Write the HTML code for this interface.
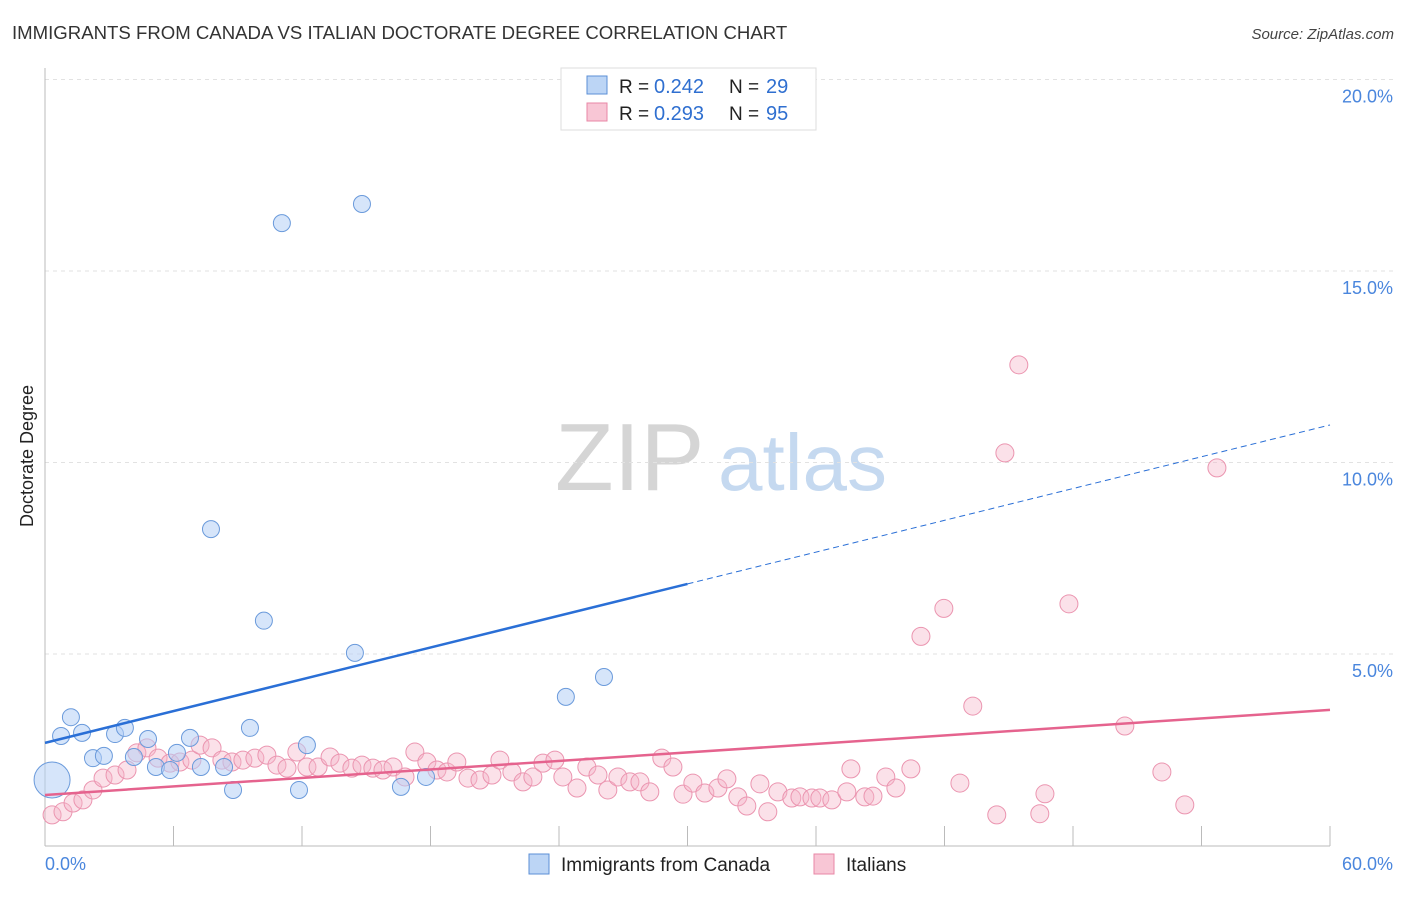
<!DOCTYPE html>
<html><head><meta charset="utf-8"><style>
body{margin:0;background:#fff;font-family:"Liberation Sans",sans-serif;}
svg text{font-family:"Liberation Sans",sans-serif;}
</style></head><body>
<svg id="chart" width="1406" height="892" xmlns="http://www.w3.org/2000/svg">
<text x="12" y="39" font-size="18.6" fill="#333">IMMIGRANTS FROM CANADA VS ITALIAN DOCTORATE DEGREE CORRELATION CHART</text>
<text x="1394" y="39" font-size="15" fill="#444" font-style="italic" text-anchor="end">Source: ZipAtlas.com</text>
<g>
<text x="555" y="490" font-size="96" fill="#d5d5d5" font-family="Liberation Serif">ZIP</text>
<text x="718" y="490" font-size="80" fill="#c5d9f0">atlas</text>
</g>
<g id="grid"></g>
<g id="axes"></g>
<g id="marks"></g>
<text transform="translate(33,456) rotate(-90)" font-size="18" fill="#222" text-anchor="middle">Doctorate Degree</text>
<g>
<rect x="561" y="68" width="255" height="62" fill="#fff" stroke="#ddd"/>
<rect x="587" y="76" width="20" height="18" fill="#bcd5f5" stroke="#5b8fd6"/>
<text x="619" y="93" font-size="19" fill="#222">R = </text>
<text x="654" y="93" font-size="20" fill="#2f6fd0">0.242</text>
<text x="729" y="93" font-size="19" fill="#222">N = </text>
<text x="766" y="93" font-size="20" fill="#2f6fd0">29</text>
<rect x="587" y="103" width="20" height="18" fill="#f8c6d5" stroke="#e887a6"/>
<text x="619" y="120" font-size="19" fill="#222">R = </text>
<text x="654" y="120" font-size="20" fill="#2f6fd0">0.293</text>
<text x="729" y="120" font-size="19" fill="#222">N = </text>
<text x="766" y="120" font-size="20" fill="#2f6fd0">95</text>
</g>
<g>
<rect x="529" y="854" width="20" height="20" fill="#bcd5f5" stroke="#5b8fd6"/>
<text x="561" y="871" font-size="19" fill="#222">Immigrants from Canada</text>
<rect x="814" y="854" width="20" height="20" fill="#f8c6d5" stroke="#e887a6"/>
<text x="846" y="871" font-size="19" fill="#222">Italians</text>
</g>
</svg>
<script>
const yTicks=[5,10,15,20];
const yTickLabels=["5.0%","10.0%","15.0%","20.0%"];
const xTicks=[0,6,12,18,24,30,36,42,48,54,60];
const canadaX=[0.33,0.75,1.21,1.73,2.24,2.75,3.27,3.73,4.15,4.81,5.18,5.84,6.16,6.77,7.28,8.36,8.78,9.57,10.22,7.75,11.06,12.23,11.86,14.47,14.80,16.62,17.79,24.32,26.10];
const canadaY=[1.71,2.86,3.35,2.94,2.28,2.34,2.91,3.07,2.31,2.78,2.05,1.97,2.42,2.81,2.05,2.05,1.45,3.07,5.87,8.26,16.25,2.62,1.45,5.03,16.75,1.53,1.79,3.88,4.40];
const italX=[0.33,0.84,1.31,1.77,2.24,2.71,3.27,3.83,4.29,4.76,5.28,5.84,6.30,6.86,7.24,7.80,8.26,8.73,9.24,9.80,10.36,10.83,11.30,11.76,12.23,12.75,13.31,13.77,14.33,14.80,15.31,15.78,16.25,16.81,17.27,17.83,18.30,18.77,19.23,19.75,20.31,20.87,21.24,21.80,22.32,22.78,23.25,23.81,24.18,24.84,25.30,25.82,26.28,26.75,27.31,27.78,28.24,28.80,29.32,29.79,30.25,30.81,31.42,31.84,32.35,32.77,33.38,33.75,34.22,34.87,35.25,35.81,36.18,36.74,37.44,37.63,38.28,38.66,39.26,39.73,40.43,42.72,43.32,40.90,41.97,45.47,44.82,47.81,54.72,50.42,52.15,53.22,44.44,46.45,46.69];
const italY=[0.80,0.88,1.11,1.19,1.45,1.76,1.84,1.97,2.42,2.55,2.28,2.15,2.18,2.23,2.62,2.55,2.23,2.18,2.23,2.28,2.36,2.10,2.02,2.44,2.05,2.05,2.31,2.15,2.02,2.10,2.02,1.97,2.05,1.79,2.44,2.18,1.97,1.92,2.18,1.76,1.71,1.84,2.23,1.92,1.66,1.79,2.15,2.23,1.79,1.50,2.05,1.84,1.45,1.79,1.66,1.66,1.40,2.28,2.05,1.34,1.63,1.37,1.50,1.74,1.27,1.03,1.61,0.88,1.40,1.24,1.27,1.24,1.24,1.19,1.40,2.00,1.27,1.29,1.79,1.50,2.00,1.63,3.64,5.46,6.19,12.55,10.25,6.31,9.86,3.12,1.92,1.06,0.80,0.83,1.35];
const canadaTrend=[2.68,10.98];
const italTrend=[1.32,3.54];

const NS="http://www.w3.org/2000/svg";
const X0=45,X1=1330,Y0=845.5,PXPCT=38.3;
function sx(v){return X0+(v/60)*(X1-X0);}
function sy(v){return Y0-v*PXPCT;}
function mk(tag,attrs,parent){const e=document.createElementNS(NS,tag);for(const k in attrs)e.setAttribute(k,attrs[k]);parent.appendChild(e);return e;}
const grid=document.getElementById('grid'),axes=document.getElementById('axes'),marks=document.getElementById('marks');
yTicks.forEach((t,i)=>{
 const l=mk('line',{x1:45,x2:1393,y1:sy(t),y2:sy(t),stroke:'#e2e2e2','stroke-dasharray':'4,4'},grid);
 
 
 const tx=mk('text',{x:1393,y:sy(t)+23,'font-size':18,fill:'#4a86dd','text-anchor':'end'},axes);
 tx.textContent=yTickLabels[i];
 
 
});
const ya=mk('line',{x1:45,x2:45,y1:68,y2:846,stroke:'#bbb'},axes);


const xa=mk('line',{x1:45,x2:1330,y1:846,y2:846,stroke:'#bbb'},axes);


xTicks.forEach(t=>{
 const l=mk('line',{x1:sx(t),x2:sx(t),y1:826,y2:846,stroke:'#bbb'},axes);
 
 
});
const xl0=mk('text',{x:45,y:870,'font-size':18,fill:'#4a86dd'},axes);xl0.textContent='0.0%';


const xl1=mk('text',{x:1393,y:870,'font-size':18,fill:'#4a86dd','text-anchor':'end'},axes);xl1.textContent='60.0%';



italX.forEach((x,i)=>{
 const c=mk('circle',{cx:sx(x),cy:sy(italY[i]),r:9,fill:'rgba(246,180,200,0.4)',stroke:'#eb95b0','stroke-width':1},marks);
 
 
});
canadaX.forEach((x,i)=>{
 const c=mk('circle',{cx:sx(x),cy:sy(canadaY[i]),r:i===0?18:8.5,fill:'rgba(180,208,245,0.55)',stroke:'#6a9adb','stroke-width':1},marks);
 
 
});
function tr(a,x){return a[0]+(a[1]-a[0])*x/60;}
const pl=mk('line',{x1:sx(0),y1:sy(tr(italTrend,0)),x2:sx(60),y2:sy(tr(italTrend,60)),stroke:'#e5638e','stroke-width':2.5},marks);


const bl=mk('line',{x1:sx(0),y1:sy(tr(canadaTrend,0)),x2:sx(30),y2:sy(tr(canadaTrend,30)),stroke:'#2a6fd6','stroke-width':2.5},marks);


const bd=mk('line',{x1:sx(30),y1:sy(tr(canadaTrend,30)),x2:sx(60),y2:sy(tr(canadaTrend,60)),stroke:'#2a6fd6','stroke-width':1,'stroke-dasharray':'6,4'},marks);


</script>
</body></html>
